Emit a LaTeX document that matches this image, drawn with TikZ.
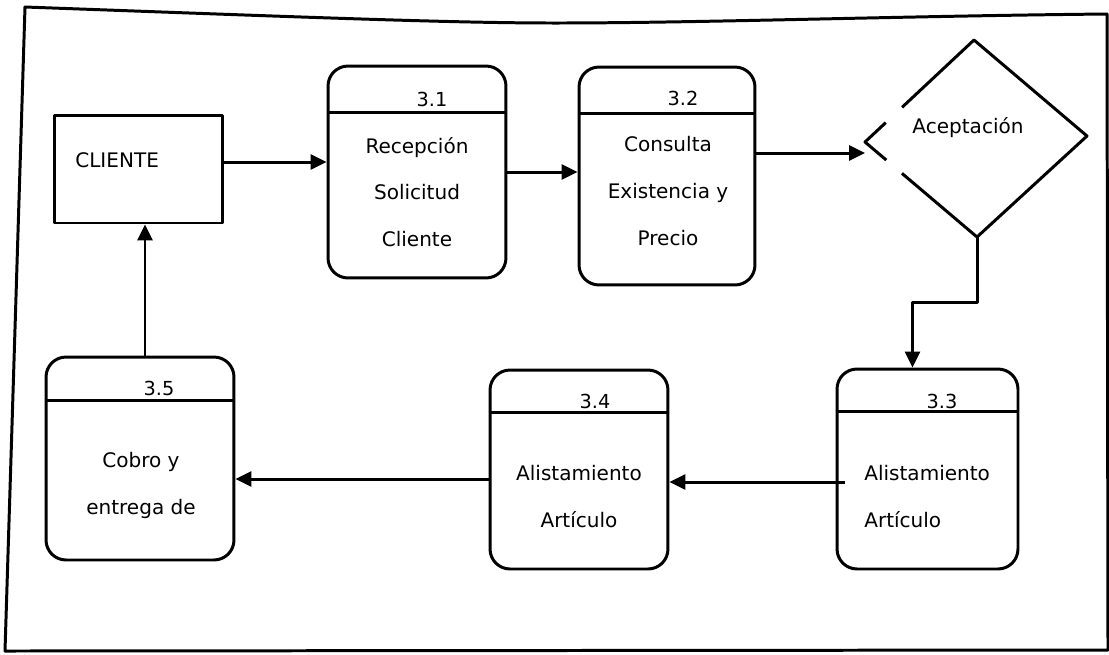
\documentclass[tikz,border=0pt]{standalone}
\usepackage{fontspec}
\setmainfont{DejaVu Sans}
\usetikzlibrary{arrows.meta,calc}

\tikzset{
  proc/.style={draw, rounded corners=0.4cm, line width=1.7pt},
  ent/.style={draw, line width=1.7pt},
  lbl/.style={font=\fontsize{11.4}{26.6}\selectfont, inner sep=0pt},
  num/.style={font=\fontsize{11}{13}\selectfont, inner sep=0pt},
  flow/.style={line width=1.7pt, -{Triangle[length=0.32cm,width=0.3cm]}},
}

\begin{document}
\begin{tikzpicture}[x=0.02cm, y=-0.02cm, line join=round]
\useasboundingbox (0,0) rectangle (1109,654);
% marco
\draw[line width=1.7pt] (25,7) .. controls (300,17) and (450,23) .. (555,23)
  .. controls (700,23) and (900,16) .. (1107,14) -- (1108,650) -- (5,651) -- cycle;

% entidad externa
\node[ent, minimum width=3.38cm, minimum height=2.16cm] (cli) at (138.5,169) {};
\node[lbl, anchor=west] (clitxt) at (75,160) {CLIENTE};

% procesos
\node[proc, minimum width=3.56cm, minimum height=4.24cm] (p31) at (417,172) {};
\node[proc, minimum width=3.52cm, minimum height=4.36cm] (p32) at (667,176) {};
\node[proc, minimum width=3.62cm, minimum height=4cm] (p33) at (927.5,469) {};
\node[proc, minimum width=3.56cm, minimum height=3.98cm] (p34) at (579,469.5) {};
\node[proc, minimum width=3.76cm, minimum height=4.06cm] (p35) at (140,458.5) {};
\foreach \p/\d in {p31/0.96, p32/0.96, p33/0.88, p34/0.88, p35/0.9}
  \draw[line width=1.7pt] ([yshift=-\d cm]\p.north west) -- ([yshift=-\d cm]\p.north east);

\node[num] (n31) at (432,99) {3.1};
\node[num] (n32) at (683,98) {3.2};
\node[num] (n33) at (942,401) {3.3};
\node[num] (n34) at (595,401) {3.4};
\node[num] (n35) at (159,388) {3.5};

\node[lbl, align=center] (t31) at (417,192) {Recepción\\Solicitud\\Cliente};
\node[lbl, align=center] (t32) at (668,191) {Consulta\\Existencia y\\Precio};
\node[lbl, align=left, anchor=west] (t33) at (864,496.5) {Alistamiento\\Artículo};
\node[lbl, align=center] (t34) at (579,496.5) {Alistamiento\\Artículo};
\node[lbl, align=center] (t35) at (141,485.5) {Cobro y\\entrega de};

% decision
\coordinate (dn) at (974,40);
\coordinate (de) at (1087,136);
\coordinate (ds) at (977,237);
\coordinate (dw) at (865,142);
\node[lbl] (acep) at (968,128) {Aceptación};
\draw[line width=1.7pt] ($(dn)!0.66!(dw)$) -- (dn) -- (de) -- (ds) -- ($(ds)!0.67!(dw)$);
\draw[line width=1.7pt] ($(dn)!0.81!(dw)$) -- (dw) -- ($(dw)!0.19!(ds)$);

% flujos
\draw[flow] ([yshift=0.14cm]cli.east) -- ([yshift=0.14cm]cli.east -| p31.west);
\draw[flow] (p31.east) -- (p31.east -| p32.west);
\draw[flow] ([yshift=0.46cm]p32.east) -- ([yshift=0.46cm]p32.east -| dw);
\draw[flow] (ds) -- ++(0,65) -| ([xshift=-0.3cm]p33.north);
\draw[flow] ([xshift=0.18cm,yshift=-0.26cm]p33.west) -- ([yshift=-0.26cm]p33.west -| p34.east);
\draw[flow] ([yshift=-0.19cm]p34.west) -- ([yshift=-0.19cm]p34.west -| p35.east);
\draw[flow] ([xshift=0.1cm]p35.north) -- ([xshift=0.1cm]p35.north |- cli.south);
\end{tikzpicture}
\end{document}
